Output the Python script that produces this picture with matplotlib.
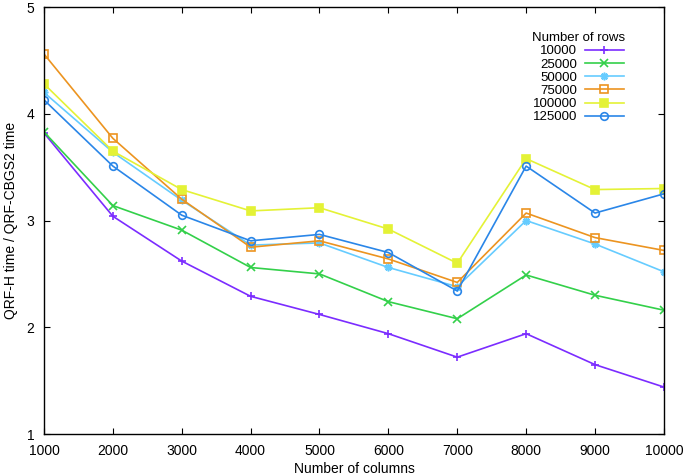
import matplotlib.pyplot as plt

plt.rcParams['font.family'] = ['Liberation Sans', 'DejaVu Sans']
plt.rcParams['font.size'] = 10

# --- Data ---
columns = [1000, 2000, 3000, 4000, 5000, 6000, 7000, 8000, 9000, 10000]

rows_10000 = [3.82, 3.04, 2.62, 2.29, 2.12, 1.94, 1.72, 1.94, 1.65, 1.44]
rows_25000 = [3.83, 3.14, 2.91, 2.56, 2.50, 2.24, 2.08, 2.49, 2.30, 2.16]
rows_50000 = [4.20, 3.64, 3.19, 2.77, 2.79, 2.56, 2.38, 3.00, 2.78, 2.52]
rows_75000 = [4.56, 3.77, 3.20, 2.75, 2.81, 2.64, 2.42, 3.07, 2.84, 2.72]
rows_100000 = [4.28, 3.65, 3.29, 3.09, 3.12, 2.92, 2.60, 3.58, 3.29, 3.30]
rows_125000 = [4.13, 3.51, 3.05, 2.81, 2.87, 2.70, 2.34, 3.51, 3.07, 3.25]

labels = ['10000', '25000', '50000', '75000', '100000', '125000']
series = [rows_10000, rows_25000, rows_50000, rows_75000, rows_100000, rows_125000]
colors = ['#7b2cff', '#33d04a', '#66ccff', '#ec9420', '#e4f236', '#2a86e8']
markers = ['+', 'x', (8, 2, 0), 's', 's', 'o']
filled = [True, True, True, False, True, False]

fig = plt.figure(figsize=(6.85, 4.76), dpi=100)
ax = fig.add_axes([0.0642, 0.0882, 0.905, 0.897])

for vals, lab, c, m, f in zip(series, labels, colors, markers, filled):
    ax.plot(columns, vals, color=c, linewidth=1.2, marker=m, markersize=5.5,
            markerfacecolor=c if f else 'none', markeredgecolor=c,
            markeredgewidth=1.2, label=lab)

ax.set_xlim(1000, 10000)
ax.set_ylim(1, 5)
ax.set_xticks(columns)
ax.set_yticks([1, 2, 3, 4, 5])
ax.tick_params(direction='in', length=4, width=0.8, top=True, right=True,
               colors='black')
ax.tick_params(axis='x', pad=7)
ax.tick_params(axis='y', pad=7)
for s in ax.spines.values():
    s.set_linewidth(1.0)

ax.set_xlabel('Number of columns', labelpad=3)
ax.set_ylabel('QRF-H time / QRF-CBGS2 time', labelpad=6)

ax.legend(title='Number of rows', loc='upper right', bbox_to_anchor=(0.952, 0.963),
          frameon=False, markerfirst=False, handlelength=2.95, handletextpad=0.55,
          labelspacing=0.075, borderpad=0.2, fontsize=9.5, title_fontsize=9.5)

plt.savefig('out.png', dpi=100)
